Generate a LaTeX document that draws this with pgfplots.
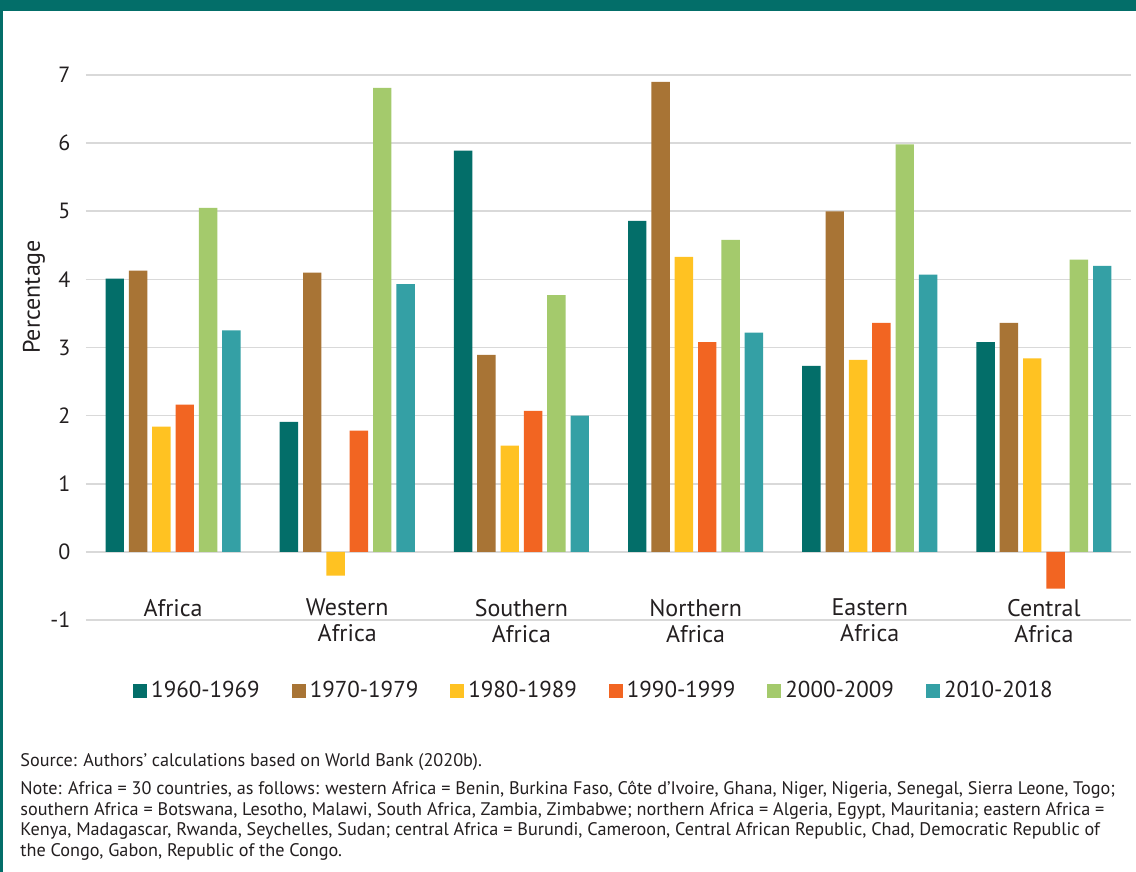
\documentclass[border=0pt]{standalone}
\usepackage{pgfplots}
\usepackage{pgfplotstable}
\pgfplotsset{compat=1.18}
\usepackage{fontspec}
\setmainfont{PT Sans}
\definecolor{frame}{HTML}{036E69}
\definecolor{cA}{HTML}{036E69}
\definecolor{cB}{HTML}{A87435}
\definecolor{cC}{HTML}{FFC222}
\definecolor{cD}{HTML}{F26522}
\definecolor{cE}{HTML}{A4CA6C}
\definecolor{cF}{HTML}{34A0A5}
\definecolor{txt}{HTML}{231F20}
\definecolor{grd}{HTML}{D9D9D9}
\pgfplotsset{sqleg/.style={legend image code/.code={\fill[##1,draw=none] (0pt,-3.5pt) rectangle (7pt,3.5pt);}}}
\pgfplotstableread{
x  a     b     c      d      e     f
0  4.01  4.13  1.84   2.16   5.05  3.25
1  1.91  4.10  -0.35  1.78   6.81  3.93
2  5.89  2.89  1.56   2.07   3.77  2.00
3  4.86  6.90  4.33   3.08   4.58  3.22
4  2.73  5.00  2.82   3.36   5.98  4.07
5  3.08  3.36  2.84   -0.54  4.29  4.20
}\datatable
\begin{document}
\begin{tikzpicture}
\fill[white] (0,0) rectangle (568pt,-436pt);
\fill[frame] (0,0) rectangle (568pt,-5.75pt);
\fill[frame] (0,0) rectangle (1.35pt,-436pt);
\begin{axis}[
  at={(43pt,-310pt)}, anchor=south west,
  scale only axis, width=522.5pt, height=272.5pt,
  xmin=-0.5, xmax=5.5, ymin=-1, ymax=7,
  ybar, bar width=0.106,
  axis line style={draw=none},
  tick style={draw=none},
  major tick length=0pt,
  ymajorgrids, grid style={grd, line width=0.8pt},
  xtick={0,1,2,3,4,5},
  xticklabels={Africa,{Western\\Africa},{Southern\\Africa},{Northern\\Africa},{Eastern\\Africa},{Central\\Africa}},
  ytick={-1,0,1,2,3,4,5,6,7},
  /pgf/number format/assume math mode=true,
  yticklabel style={font=\fontsize{11}{13}\selectfont, text=txt, xshift=-4.3pt},
  xticklabel style={font=\fontsize{12}{13}\selectfont, text=txt, align=center, anchor=north, yshift=14pt},
  ylabel={Percentage},
  ylabel style={at={(axis description cs:-0.0498,0.593)}, anchor=center, font=\fontsize{12}{13}\selectfont, text=txt},
  legend columns=6,
  legend style={at={(axis description cs:0.487,-0.130)}, anchor=center, draw=none, fill=none,
    font=\fontsize{11.5}{13}\selectfont, text=txt,
    /tikz/every even column/.append style={column sep=14pt}},
]
\addplot[fill=cA, draw=none, bar shift=-0.335, sqleg] table[x=x,y=a] {\datatable};
\addplot[fill=cB, draw=none, bar shift=-0.201, sqleg] table[x=x,y=b] {\datatable};
\addplot[fill=cC, draw=none, bar shift=-0.067, sqleg] table[x=x,y=c] {\datatable};
\addplot[fill=cD, draw=none, bar shift=0.067, sqleg] table[x=x,y=d] {\datatable};
\addplot[fill=cE, draw=none, bar shift=0.201, sqleg] table[x=x,y=e] {\datatable};
\addplot[fill=cF, draw=none, bar shift=0.335, sqleg] table[x=x,y=f] {\datatable};
\legend{1960-1969,1970-1979,1980-1989,1990-1999,2000-2009,2010-2018}
\end{axis}
\begin{scope}[every node/.style={anchor=base west, inner sep=0pt, text=txt, font=\fontsize{9.1}{10}\selectfont}]
\node at (10pt,-383pt) {Source: Authors’ calculations based on World Bank (2020b).};
\node at (10pt,-397pt) {Note: Africa = 30 countries, as follows: western Africa = Benin, Burkina Faso, Côte d’Ivoire, Ghana, Niger, Nigeria, Senegal, Sierra Leone, Togo;};
\node at (10pt,-407.5pt) {southern Africa = Botswana, Lesotho, Malawi, South Africa, Zambia, Zimbabwe; northern Africa = Algeria, Egypt, Mauritania; eastern Africa =};
\node at (10pt,-417.75pt) {Kenya, Madagascar, Rwanda, Seychelles, Sudan; central Africa = Burundi, Cameroon, Central African Republic, Chad, Democratic Republic of};
\node at (10pt,-428pt) {the Congo, Gabon, Republic of the Congo.};
\end{scope}
\pgfresetboundingbox
\path[use as bounding box] (0,0) rectangle (568pt,-436pt);
\end{tikzpicture}
\end{document}
